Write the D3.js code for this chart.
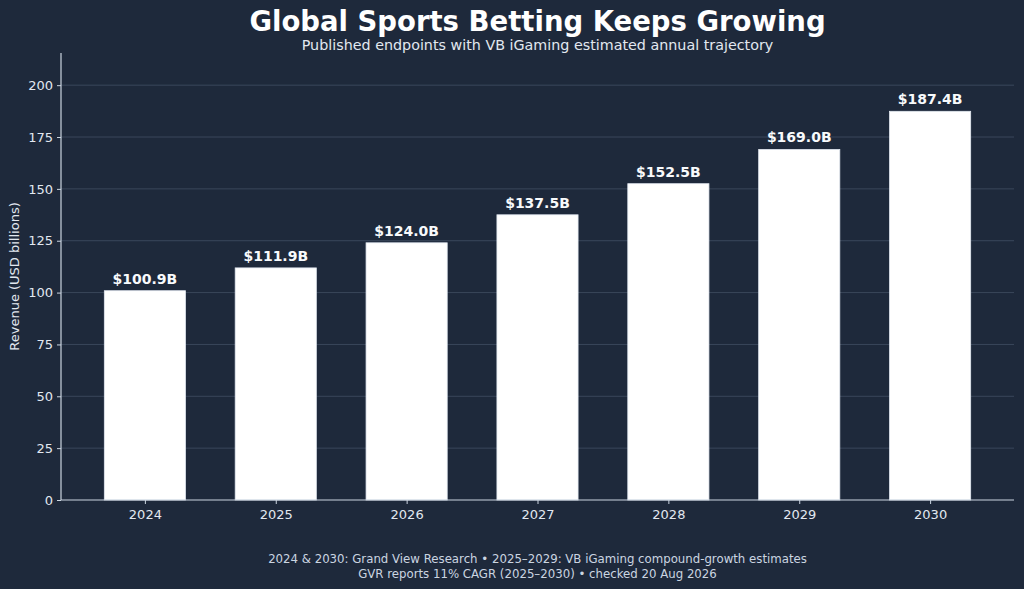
<!DOCTYPE html>
<html><head><meta charset="utf-8">
<script src="https://cdn.jsdelivr.net/npm/d3@7"></script>
<style>html,body{margin:0;padding:0;background:#1e293b;}svg{display:block;font-family:"DejaVu Sans",sans-serif;}</style>
</head><body>
<svg id="c" width="1024" height="589"></svg>
<script>
const years = ["2024","2025","2026","2027","2028","2029","2030"];
const revenue = [100.9,111.9,124.0,137.5,152.5,169.0,187.4];
const yTicks = [0,25,50,75,100,125,150,175,200];
const title = "Global Sports Betting Keeps Growing";
const subtitle = "Published endpoints with VB iGaming estimated annual trajectory";
const footer = ["2024 & 2030: Grand View Research • 2025–2029: VB iGaming compound-growth estimates","GVR reports 11% CAGR (2025–2030) • checked 20 Aug 2026"];

const svg = d3.select("#c");
const W=1024,H=589;
const m={l:61,r:10,t:53,b:89};
const iw=W-m.l-m.r, ih=H-m.t-m.b;
svg.append("rect").attr("width",W).attr("height",H).attr("fill","#1e293b");
const g=svg.append("g").attr("transform",`translate(${m.l},${m.t})`);

const barW=0.62;
const x=d3.scaleLinear().domain([-barW/2-0.05*(years.length-1+barW), years.length-1+barW/2+0.05*(years.length-1+barW)]).range([0,iw]);
const y=d3.scaleLinear().domain([0,d3.max(revenue)*1.15]).range([ih,0]);

// grid
g.append("g").selectAll("line").data(yTicks.filter(d=>d>0)).join("line")
 .attr("x1",0).attr("x2",iw).attr("y1",d=>y(d)).attr("y2",d=>y(d))
 .attr("stroke","#3a475b").attr("stroke-width",1);

// bars
g.append("g").selectAll("rect").data(revenue).join("rect")
 .attr("x",(d,i)=>x(i-barW/2)).attr("width",x(barW)-x(0))
 .attr("y",d=>y(d)).attr("height",d=>y(0)-y(d))
 .attr("fill","#ffffff").attr("stroke","#e2e8f0").attr("stroke-width",0.8);

// value labels
g.append("g").selectAll("text").data(revenue).join("text")
 .attr("x",(d,i)=>x(i)).attr("y",d=>y(d)-7)
 .attr("text-anchor","middle").attr("fill","#f8fafc")
 .attr("font-size",14).attr("font-weight","bold")
 .text(d=>"$"+d.toFixed(1)+"B");

// axes
const ya=g.append("g").call(d3.axisLeft(y).tickValues(yTicks).tickSize(4).tickPadding(4));
ya.select(".domain").attr("stroke","#cbd5e1").attr("stroke-width",1.2).attr("d",`M0,0V${ih}`);
ya.selectAll(".tick line").attr("stroke","#cbd5e1");
ya.selectAll(".tick text").attr("fill","#e2e8f0").attr("font-size",13).attr("font-family","DejaVu Sans");

const xa=g.append("g").attr("transform",`translate(0,${ih})`)
 .call(d3.axisBottom(x).tickValues(years.map((d,i)=>i)).tickFormat(i=>years[i]).tickSize(4).tickPadding(6));
xa.select(".domain").attr("stroke","#cbd5e1").attr("stroke-width",1.2).attr("d",`M0,0H${iw}`);
xa.selectAll(".tick line").attr("stroke","#cbd5e1");
xa.selectAll(".tick text").attr("fill","#e2e8f0").attr("font-size",13).attr("font-family","DejaVu Sans");

// y label
svg.append("text").attr("transform",`translate(19,${m.t+ih/2}) rotate(-90)`)
 .attr("text-anchor","middle").attr("fill","#e2e8f0").attr("font-size",13)
 .text("Revenue (USD billions)");

const cx=m.l+iw/2;
svg.append("text").attr("x",cx).attr("y",31).attr("text-anchor","middle")
 .attr("fill","#ffffff").attr("font-size",27.5).attr("font-weight","bold").text(title);
svg.append("text").attr("x",cx).attr("y",50).attr("text-anchor","middle")
 .attr("fill","#e2e8f0").attr("font-size",14.3).text(subtitle);
svg.selectAll(".ft").data(footer).join("text").attr("class","ft")
 .attr("x",cx).attr("y",(d,i)=>563+i*15).attr("text-anchor","middle")
 .attr("fill","#cbd5e1").attr("font-size",11.75).text(d=>d);
</script>
</body></html>
